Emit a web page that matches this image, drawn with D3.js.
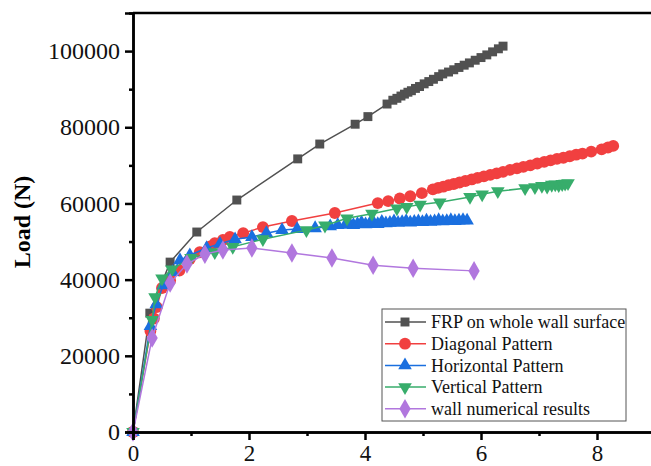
<!DOCTYPE html>
<html>
<head>
<meta charset="utf-8">
<script src="https://cdn.jsdelivr.net/npm/d3@7"></script>
<style>
  body { margin: 0; background: #fff; }
  svg { display: block; }
</style>
</head>
<body>
<div id="chart"></div>
<script>
// chart size
const width = 651;
const height = 466;

// series data (displacement x, load y)
const frpX = [0, 0.29, 0.64, 1.10, 1.79, 2.84, 3.22, 3.83, 4.05, 4.38, 4.48, 4.55, 4.62, 4.68, 4.74, 4.80, 4.87, 4.94, 5.02, 5.10, 5.18, 5.27, 5.34, 5.44, 5.53, 5.62, 5.71, 5.80, 5.90, 6.00, 6.10, 6.20, 6.30, 6.38];
const frpY = [0, 31200, 44600, 52500, 60900, 71700, 75600, 80800, 82800, 86100, 87100, 87600, 88200, 88700, 89200, 89600, 90200, 90700, 91400, 92000, 92600, 93300, 94000, 94500, 95100, 95700, 96300, 96900, 97600, 98300, 99000, 99800, 100600, 101300];

const diagX = [0, 0.30, 0.36, 0.41, 0.50, 0.64, 0.80, 0.98, 1.15, 1.33, 1.41, 1.55, 1.67, 1.90, 2.24, 2.74, 3.48, 4.22, 4.40, 4.60, 4.78, 4.98, 5.17, 5.26, 5.35, 5.44, 5.53, 5.63, 5.73, 5.84, 5.94, 6.05, 6.16, 6.27, 6.38, 6.50, 6.62, 6.73, 6.85, 6.97, 7.09, 7.20, 7.31, 7.42, 7.53, 7.64, 7.75, 7.90, 8.08, 8.19, 8.28];
const diagY = [0, 26500, 29800, 32800, 37800, 39800, 42400, 45400, 47200, 48700, 49600, 50400, 51200, 52200, 53800, 55400, 57500, 60100, 60600, 61300, 61900, 62700, 63700, 64100, 64400, 64800, 65100, 65500, 65900, 66300, 66700, 67100, 67500, 67900, 68300, 68800, 69200, 69600, 70000, 70500, 70900, 71300, 71700, 72000, 72400, 72800, 73100, 73600, 74200, 74700, 75100];

const horzX = [0, 0.30, 0.40, 0.52, 0.68, 0.81, 0.98, 1.27, 1.50, 1.76, 2.05, 2.30, 2.57, 2.83, 3.14, 3.40, 3.53, 3.66, 3.73, 3.80, 3.87, 3.94, 4.01, 4.08, 4.15, 4.22, 4.29, 4.36, 4.43, 4.50, 4.57, 4.64, 4.71, 4.78, 4.85, 4.92, 4.99, 5.06, 5.13, 5.20, 5.27, 5.34, 5.41, 5.48, 5.55, 5.62, 5.69, 5.76];
const horzY = [0, 27800, 33500, 38500, 42000, 45100, 46400, 48300, 49400, 50600, 51200, 52200, 53000, 53300, 53500, 54000, 54300, 54400, 54800, 54300, 54600, 55000, 54500, 54700, 54900, 54600, 55200, 54800, 54900, 55300, 54900, 55100, 55400, 55000, 55200, 55300, 55100, 55500, 55200, 55300, 55600, 55300, 55400, 55600, 55400, 55500, 55600, 55500];

const vertX = [0, 0.33, 0.38, 0.50, 0.67, 1.00, 1.41, 1.72, 2.24, 2.99, 3.31, 3.69, 4.12, 4.55, 4.72, 4.95, 5.29, 5.81, 6.02, 6.29, 6.76, 6.93, 7.05, 7.14, 7.22, 7.28, 7.34, 7.40, 7.45, 7.50];
const vertY = [0, 29400, 35400, 40300, 42700, 45700, 47200, 48600, 50600, 53000, 54200, 56100, 57300, 58700, 59100, 59700, 60300, 61700, 62400, 63200, 64000, 64300, 64600, 64400, 64900, 65000, 64800, 65100, 65200, 65300];

const wallX = [0, 0.33, 0.64, 0.93, 1.24, 1.55, 2.05, 2.74, 3.43, 4.14, 4.83, 5.88];
const wallY = [0, 24700, 39100, 44100, 46700, 47800, 48300, 47000, 45700, 43800, 43000, 42300];

const seriesNames = ["FRP on whole wall surface", "Diagonal Pattern", "Horizontal Pattern", "Vertical Pattern", "wall numerical results"];
const seriesColors = ["#515151", "#F14040", "#1A6FDF", "#37AD6B", "#B177DE"];
const seriesSymbols = [d3.symbolSquare, d3.symbolCircle, d3.symbolTriangle, d3.symbolTriangle, d3.symbolDiamond];
const seriesSizes = [80, 110, 80, 80, 110];
const seriesRotate = [0, 0, 0, 180, 0];

const xTicks = [0, 2, 4, 6, 8];
const yTicks = [0, 20000, 40000, 60000, 80000, 100000];

const series = [
  { x: frpX, y: frpY },
  { x: diagX, y: diagY },
  { x: horzX, y: horzY },
  { x: vertX, y: vertY },
  { x: wallX, y: wallY }
];

const svg = d3.select("#chart").append("svg")
  .attr("width", width).attr("height", height);

const xScale = d3.scaleLinear().domain([0, 9]).range([133, 655]);
const yScale = d3.scaleLinear().domain([0, 110000]).range([432, 13]);

const fontFam = "'Liberation Serif', 'Times New Roman', serif";

// lines and markers
const line = d3.line().x(d => xScale(d[0])).y(d => yScale(d[1]));

series.forEach((s, i) => {
  const pts = s.x.map((v, j) => [v, s.y[j]]);
  svg.append("path")
    .datum(pts)
    .attr("d", line)
    .attr("fill", "none")
    .attr("stroke", seriesColors[i])
    .attr("stroke-width", 1.5);
  const sym = d3.symbol().type(seriesSymbols[i]).size(seriesSizes[i]);
  svg.append("g").selectAll("path")
    .data(pts)
    .enter().append("path")
    .attr("d", sym)
    .attr("transform", d => `translate(${xScale(d[0])},${yScale(d[1])}) rotate(${seriesRotate[i]})`)
    .attr("fill", seriesColors[i]);
});

// axes
const xAxis = svg.append("g").attr("transform", "translate(0,432)")
  .call(d3.axisBottom(xScale).tickValues(xTicks).tickSize(8).tickPadding(4).tickFormat(d3.format("d")));
svg.append("g").attr("transform", "translate(0,432)")
  .call(d3.axisBottom(xScale).tickValues([1, 3, 5, 7]).tickSize(4).tickFormat(""));

const yAxis = svg.append("g").attr("transform", "translate(133,0)")
  .call(d3.axisLeft(yScale).tickValues(yTicks).tickSize(8).tickPadding(5).tickFormat(d3.format("d")));
svg.append("g").attr("transform", "translate(133,0)")
  .call(d3.axisLeft(yScale).tickValues([10000, 30000, 50000, 70000, 90000]).tickSize(4).tickFormat(""));

svg.selectAll(".domain").attr("stroke", "#000").attr("stroke-width", 2.5);
svg.selectAll(".tick line").attr("stroke", "#000").attr("stroke-width", 2.5);
svg.selectAll(".tick text")
  .attr("font-family", fontFam).attr("font-size", 24).attr("fill", "#111");
// x labels sit right at the bottom edge, as in the reference
xAxis.selectAll(".tick text").attr("y", 29).attr("dy", null)
  .attr("font-size", 23);

// top border
svg.append("line")
  .attr("x1", 133).attr("x2", 655).attr("y1", 13).attr("y2", 13)
  .attr("stroke", "#000").attr("stroke-width", 2.5);

// y axis title
svg.append("text")
  .attr("transform", "translate(30,222) rotate(-90)")
  .attr("text-anchor", "middle")
  .attr("font-family", fontFam)
  .attr("font-weight", "bold")
  .attr("font-size", 24)
  .text("Load (N)");

// legend
const legend = svg.append("g");
legend.append("rect")
  .attr("x", 382).attr("y", 309).attr("width", 244).attr("height", 112)
  .attr("fill", "#fff").attr("stroke", "#555").attr("stroke-width", 1);

seriesNames.forEach((name, i) => {
  const yy = 322 + i * 21.7;
  legend.append("line")
    .attr("x1", 385).attr("x2", 426).attr("y1", yy).attr("y2", yy)
    .attr("stroke", seriesColors[i]).attr("stroke-width", 1.5);
  legend.append("path")
    .attr("d", d3.symbol().type(seriesSymbols[i]).size(seriesSizes[i])())
    .attr("transform", `translate(405,${yy}) rotate(${seriesRotate[i]})`)
    .attr("fill", seriesColors[i]);
  legend.append("text")
    .attr("x", 431).attr("y", yy).attr("dy", "0.35em")
    .attr("font-family", fontFam).attr("font-size", 18)
    .attr("fill", "#111")
    .text(name);
});
</script>
</body>
</html>
